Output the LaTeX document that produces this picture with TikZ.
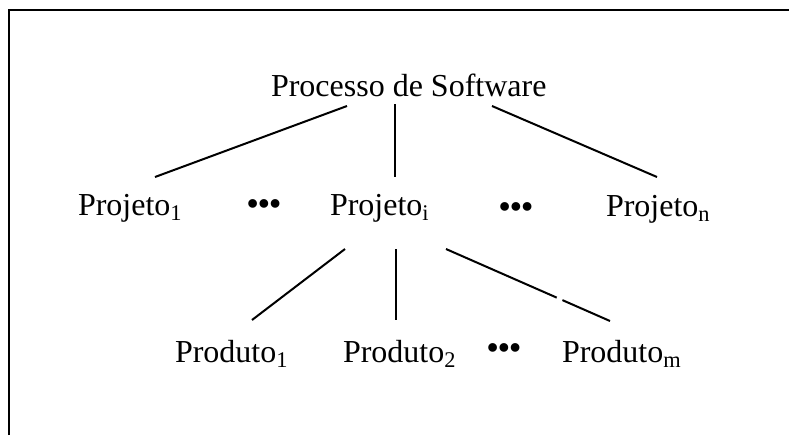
\documentclass[tikz,border=0pt]{standalone}
\usepackage{fontspec}
\setmainfont{Liberation Serif}
\usetikzlibrary{calc}
\tikzset{
  lbl/.style={inner sep=0pt, outer sep=0pt, anchor=base west, font=\fontsize{16}{19}\selectfont},
  dotsnode/.style={inner sep=0pt, outer sep=0pt, anchor=center, font=\fontsize{16}{19}\selectfont\bfseries},
  edge/.style={line width=1pt, line cap=butt},
  frame/.style={line width=1.1pt}
}
\begin{document}
\begin{tikzpicture}[x=0.5pt, y=-0.5pt]
\useasboundingbox (0,0) rectangle (789,435);
% frame
\draw[frame] (9,435) -- (9,10) -- (789,10);
% nodes
\node[lbl] (proc) at (271,96) {Processo de Software};
\node[lbl] (pj1) at (78,215) {Projeto\textsubscript{1}};
\node[dotsnode] (d1) at (264,207) {•••};
\node[lbl] (pji) at (330,215) {Projeto\textsubscript{i}};
\node[dotsnode] (d2) at (516,210) {•••};
\node[lbl] (pjn) at (606,216) {Projeto\textsubscript{n}};
\node[lbl] (pr1) at (175,362) {Produto\textsubscript{1}};
\node[lbl] (pr2) at (343,362) {Produto\textsubscript{2}};
\node[dotsnode] (d3) at (504,351) {•••};
\node[lbl] (prm) at (562,362) {Produto\textsubscript{m}};
% connector end points
\coordinate (a1) at (347,106);
\coordinate (a2) at (155,177);
\coordinate (b1) at (395,104);
\coordinate (b2) at (395,177);
\coordinate (c1) at (492,106);
\coordinate (c2) at (657,177);
\coordinate (e1) at (345,249);
\coordinate (e2) at (252,320);
\coordinate (f1) at (396,249);
\coordinate (f2) at (396,320);
\coordinate (g1) at (446,249);
\coordinate (g2) at (610,321);
% connectors
\draw[edge] (a1) -- (a2);
\draw[edge] (b1) -- (b2);
\draw[edge] (c1) -- (c2);
\draw[edge] (e1) -- (e2);
\draw[edge] (f1) -- (f2);
\draw[edge] (g1) -- ($(g1)!0.675!(g2)$);
\draw[edge] ($(g1)!0.71!(g2)$) -- (g2);
\end{tikzpicture}
\end{document}
